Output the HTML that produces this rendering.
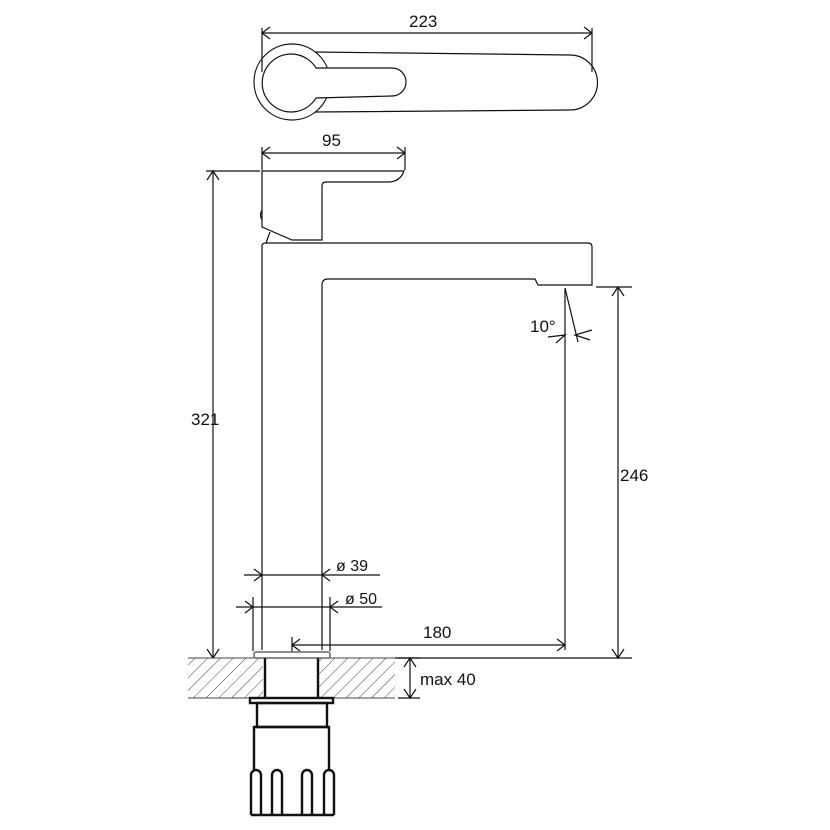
<!DOCTYPE html>
<html><head><meta charset="utf-8"><style>
html,body{margin:0;padding:0;background:#fff;}
svg{display:block;}
text{font-family:"Liberation Sans",Arial,sans-serif;font-size:17px;fill:#111;}
</style></head><body>
<svg width="830" height="830" viewBox="0 0 830 830" xmlns="http://www.w3.org/2000/svg">
<defs>
<pattern id="h" width="9" height="9" patternUnits="userSpaceOnUse" patternTransform="rotate(45)">
<line x1="0" y1="0" x2="0" y2="9" stroke="#444" stroke-width="1"/>
</pattern>
</defs>
<g fill="none" stroke="#111" stroke-width="1.2">
<!-- top view -->
<line x1="262" y1="33" x2="592" y2="33"/>
<path d="M270,27 L262,33 L270,39 M584,27 L592,33 L584,39"/>
<line x1="262" y1="28" x2="262" y2="72"/>
<line x1="592" y1="28" x2="592" y2="72"/>
<text x="409" y="27" stroke="none">223</text>
<circle cx="292" cy="82" r="38"/>
<path d="M315,52 L570,55 A27,27 0 0 1 570,110 L315,112"/>
<path d="M316,68 A29,29 0 1 0 316,98 L392,96 A14,14 0 0 0 392,68 Z" fill="#fff"/>
<!-- 95 -->
<line x1="262" y1="153" x2="405" y2="153"/>
<path d="M270,147 L262,153 L270,159 M397,147 L405,153 L397,159"/>
<line x1="262" y1="147" x2="262" y2="170"/>
<line x1="405" y1="147" x2="405" y2="170"/>
<text x="322" y="146" stroke="none">95</text>
<!-- handle side -->
<path d="M262,171 L404,171 Q400,182 388,182 L326,182 Q322,182 322,186 L322,240 L292,240 L262,227 Z"/>
<path d="M262,210 q-3,5 0,10"/>
<line x1="270" y1="232" x2="266" y2="243"/>
<!-- spout body -->
<path d="M262,650 L262,246 Q262,243 266,243 L588,243 Q592,243 592,247 L592,285 L538,285 L535,279 L328,279 Q322,279 322,285 L322,650"/>
<!-- 321 -->
<line x1="206" y1="171" x2="260" y2="171"/>
<line x1="213" y1="171" x2="213" y2="658"/>
<path d="M207,180 L213,171 L219,180 M207,649 L213,658 L219,649"/>
<text x="191" y="425" stroke="none">321</text>
<!-- 246 -->
<line x1="596" y1="287" x2="632" y2="287"/>
<line x1="618" y1="287" x2="618" y2="658"/>
<path d="M612,296 L618,287 L624,296 M612,649 L618,658 L624,649"/>
<text x="620" y="481" stroke="none">246</text>
<!-- 10 deg -->
<line x1="565" y1="288" x2="565" y2="650"/>
<line x1="565" y1="288" x2="578" y2="342"/>
<path d="M548,337 L565,335 L556,343 M592,330 L575,335 L590,340"/>
<text x="530" y="332" stroke="none">10°</text>
<!-- 180 -->
<line x1="292" y1="645" x2="565" y2="645"/>
<path d="M300,639 L292,645 L300,651 M557,639 L565,645 L557,651"/>
<line x1="292" y1="637" x2="292" y2="658"/>
<text x="423" y="638" stroke="none">180</text>
<!-- baseline -->
<line x1="395" y1="658" x2="632" y2="658"/>
<!-- ø39 -->
<line x1="244" y1="575" x2="380" y2="575"/>
<path d="M254,569 L262,575 L254,581 M330,569 L322,575 L330,581"/>
<text x="336" y="571" stroke="none" style="font-size:16px">ø 39</text>
<!-- ø50 -->
<line x1="236" y1="607" x2="382" y2="607"/>
<path d="M245,601 L253,607 L245,613 M338,601 L330,607 L338,613"/>
<line x1="253" y1="597" x2="253" y2="651"/>
<line x1="330" y1="597" x2="330" y2="651"/>
<text x="345" y="604" stroke="none" style="font-size:16px">ø 50</text>
<!-- max 40 -->
<line x1="398" y1="658" x2="420" y2="658"/>
<line x1="398" y1="698" x2="420" y2="698"/>
<line x1="410" y1="658" x2="410" y2="698"/>
<path d="M404,667 L410,658 L416,667 M404,689 L410,698 L416,689"/>
<text x="420" y="685" stroke="none">max 40</text>
</g>
<!-- counter -->
<rect x="188" y="658" width="75" height="40" fill="url(#h)"/>
<rect x="319" y="658" width="76" height="40" fill="url(#h)"/>
<line x1="188" y1="658" x2="263" y2="658" stroke="#444"/>
<line x1="319" y1="658" x2="395" y2="658" stroke="#444"/>
<line x1="188" y1="698" x2="395" y2="698" stroke="#444"/>
<g fill="none" stroke="#111" stroke-width="2.4">
<rect x="254" y="652" width="76" height="6" rx="2" stroke="#666" stroke-width="1.5" fill="#fff"/>
<line x1="265" y1="658" x2="265" y2="698"/>
<line x1="318" y1="658" x2="318" y2="698"/>
<rect x="250" y="698" width="83" height="5" fill="#fff"/>
<rect x="257" y="703" width="70" height="24"/>
<path d="M254,770 L254,727 L329,727 L329,770"/>
<path d="M251,815 L251,775 a5,5 0 0 1 10,0 L261,815 M272,815 L272,775 a5,5 0 0 1 10,0 L282,815 M302,815 L302,775 a5,5 0 0 1 10,0 L312,815 M324,815 L324,775 a5,5 0 0 1 10,0 L334,815"/>
<line x1="251" y1="815" x2="334" y2="815"/>
</g>
</svg>
</body></html>
